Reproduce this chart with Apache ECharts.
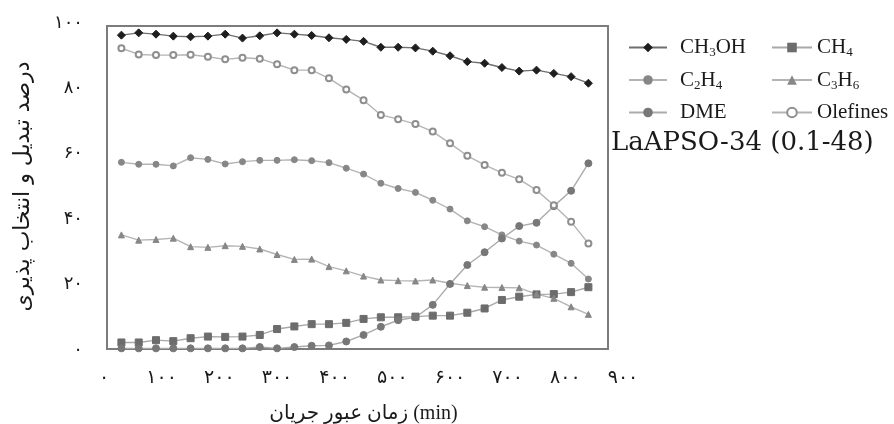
<!DOCTYPE html>
<html>
<head>
<meta charset="utf-8">
<script src="https://cdn.jsdelivr.net/npm/echarts@6.0.0/dist/echarts.min.js"></script>
<style>
  html, body { margin: 0; padding: 0; background: #fff; }
  #chart { width: 894px; height: 424px; }
</style>
</head>
<body>
<div id="chart"></div>
<script>
// time on stream (min)
const timeMin = [30, 60, 90, 120, 150, 180, 210, 240, 270, 300, 330, 360, 390, 420,
  450, 480, 510, 540, 570, 600, 630, 660, 690, 720, 750, 780, 810, 840];

const ch3oh = [96.0, 96.7, 96.3, 95.7, 95.5, 95.7, 96.3, 95.1, 95.8, 96.7, 96.3, 95.9, 95.2, 94.7,
  94.1, 92.3, 92.3, 92.1, 91.1, 89.7, 87.9, 87.4, 86.1, 85.0, 85.3, 84.3, 83.3, 81.3];
const ch4 = [2.0, 2.0, 2.7, 2.4, 3.3, 3.8, 3.7, 3.8, 4.3, 6.1, 6.9, 7.6, 7.6, 8.0,
  9.2, 9.7, 9.7, 9.9, 10.2, 10.2, 11.1, 12.4, 15.0, 16.0, 16.7, 16.8, 17.4, 18.9];
const c2h4 = [57.1, 56.5, 56.5, 56.0, 58.5, 58.0, 56.6, 57.3, 57.7, 57.7, 57.9, 57.6, 57.0, 55.3,
  53.5, 50.7, 49.1, 47.9, 45.5, 42.8, 39.2, 37.4, 34.9, 33.0, 31.8, 29.0, 26.2, 21.4];
const c3h6 = [34.9, 33.3, 33.5, 33.9, 31.3, 31.1, 31.6, 31.4, 30.6, 28.9, 27.4, 27.5, 25.2, 23.9,
  22.3, 21.1, 20.9, 20.8, 21.1, 20.1, 19.4, 18.9, 18.8, 18.7, 16.8, 15.5, 12.9, 10.6];
const dme = [0.2, 0.2, 0.2, 0.2, 0.2, 0.2, 0.2, 0.2, 0.6, 0.2, 0.6, 1.0, 1.1, 2.3,
  4.3, 6.8, 8.8, 9.7, 13.5, 19.9, 25.7, 29.6, 33.8, 37.6, 38.6, 43.7, 48.4, 56.8];
const olefines = [92.0, 90.1, 89.9, 89.9, 90.0, 89.4, 88.6, 89.1, 88.8, 87.1, 85.3, 85.3, 82.8, 79.4,
  76.1, 71.6, 70.3, 68.8, 66.5, 62.9, 59.1, 56.3, 53.9, 51.9, 48.6, 44.0, 38.9, 32.3];

const xTickLabels = ['۰', '۱۰۰', '۲۰۰', '۳۰۰', '۴۰۰', '۵۰۰', '۶۰۰', '۷۰۰', '۸۰۰', '۹۰۰'];
const yTickLabels = ['۰', '۲۰', '۴۰', '۶۰', '۸۰', '۱۰۰'];

// legend names with subscripts
const legendRich = {
  'CH3OH': '{n|CH}{s|3}{n|OH}',
  'CH4': '{n|CH}{s|4}',
  'C2H4': '{n|C}{s|2}{n|H}{s|4}',
  'C3H6': '{n|C}{s|3}{n|H}{s|6}',
  'DME': '{n|DME}',
  'Olefines': '{n|Olefines}'
};

const serif = '"Liberation Serif", "DejaVu Sans", serif';
const persian = '"DejaVu Sans", sans-serif';

function pairs(vals) {
  return timeMin.map((t, i) => [t, vals[i]]);
}

function makeSeries(name, vals, symbol, size, markColor, lineColor) {
  return {
    name: name,
    type: 'line',
    xAxisIndex: 0,
    yAxisIndex: 0,
    data: pairs(vals),
    symbol: symbol,
    symbolSize: size,
    showAllSymbol: true,
    itemStyle: { color: markColor, borderColor: markColor },
    lineStyle: { color: lineColor, width: 1.4 },
    z: name === 'CH3OH' ? 5 : 3
  };
}

const legendText = {
  fontFamily: serif,
  padding: [0, 0, 0, 8],
  rich: {
    n: { fontFamily: serif, fontSize: 21, color: '#1a1a1a', lineHeight: 24, verticalAlign: 'middle' },
    s: { fontFamily: serif, fontSize: 13, color: '#1a1a1a', lineHeight: 13, verticalAlign: 'bottom' }
  }
};

const chart = echarts.init(document.getElementById('chart'));
chart.setOption({
  animation: false,
  backgroundColor: '#fff',
  title: {
    text: 'LaAPSO-34 (0.1-48)',
    left: 611,
    top: 130,
    padding: 0,
    textStyle: { fontFamily: '"DejaVu Serif", serif', fontSize: 26, fontWeight: 'normal', color: '#1a1a1a' }
  },
  legend: [
    {
      data: ['CH3OH', 'C2H4', 'DME'],
      orient: 'vertical',
      left: 628,
      top: 37,
      padding: 0,
      itemGap: 10,
      itemWidth: 38,
      itemHeight: 12,
      formatter: name => legendRich[name],
      textStyle: legendText
    },
    {
      data: ['CH4', 'C3H6', 'Olefines'],
      orient: 'vertical',
      left: 771,
      top: 37,
      padding: 0,
      itemGap: 10,
      itemWidth: 40,
      itemHeight: 12,
      formatter: name => legendRich[name],
      textStyle: Object.assign({}, legendText, { padding: [0, 0, 0, 0] })
    }
  ],
  grid: [
    // plot box with the data
    { left: 107, right: 286, top: 26, bottom: 75, show: true, borderColor: '#7c7c7c', borderWidth: 2,
      backgroundColor: 'transparent', containLabel: false, outerBoundsMode: 'none' },
    // axis labels / names
    { left: 104, right: 271, top: 23, bottom: 74, show: false, containLabel: false, outerBoundsMode: 'none' }
  ],
  xAxis: [
    { type: 'value', gridIndex: 0, min: 5, max: 874, show: false },
    {
      type: 'value', gridIndex: 1, min: 0, max: 900, interval: 100,
      axisLine: { show: false }, axisTick: { show: false }, splitLine: { show: false },
      axisLabel: {
        margin: 19, fontFamily: persian, fontSize: 19, color: '#1a1a1a',
        formatter: v => xTickLabels[Math.round(v / 100)]
      },
      name: 'زمان عبور جریان (min)',
      nameLocation: 'middle',
      nameGap: 54,
      nameTextStyle: { fontFamily: '"Liberation Serif", "DejaVu Sans", serif', fontSize: 20, color: '#1a1a1a' }
    }
  ],
  yAxis: [
    { type: 'value', gridIndex: 0, min: 0, max: 98.8, show: false },
    {
      type: 'value', gridIndex: 1, min: 0, max: 100, interval: 20,
      axisLabel: {
        margin: 21, fontFamily: persian, fontSize: 18, color: '#1a1a1a',
        formatter: v => yTickLabels[Math.round(v / 20)]
      },
      axisLine: { show: false }, axisTick: { show: false }, splitLine: { show: false },
      name: 'درصد تبدیل و انتخاب پذیری',
      nameLocation: 'middle',
      nameRotate: 90,
      nameGap: 70,
      nameTextStyle: { fontFamily: persian, fontSize: 22, color: '#1a1a1a' }
    }
  ],
  series: [
    makeSeries('CH3OH', ch3oh, 'diamond', 8, '#1e1e1e', '#6f6f6f'),
    makeSeries('CH4', ch4, 'rect', 7, '#6c6c6c', '#a8a8a8'),
    makeSeries('C2H4', c2h4, 'circle', 6, '#878787', '#b4b4b4'),
    makeSeries('C3H6', c3h6, 'triangle', 6, '#878787', '#b4b4b4'),
    makeSeries('DME', dme, 'circle', 7, '#777777', '#ababab'),
    makeSeries('Olefines', olefines, 'emptyCircle', 6, '#8f8f8f', '#b4b4b4')
  ]
});
</script>
</body>
</html>
